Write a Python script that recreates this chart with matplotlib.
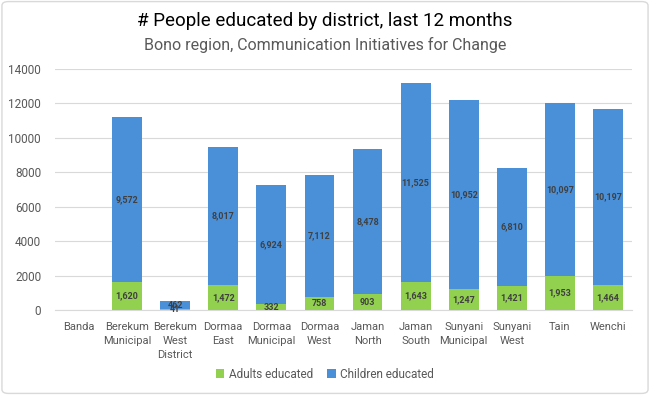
import matplotlib.pyplot as plt
import numpy as np
from matplotlib.patches import FancyBboxPatch

plt.rcParams['font.family'] = ['Roboto', 'DejaVu Sans']

# Data
districts = ["Banda", "Berekum\nMunicipal", "Berekum\nWest\nDistrict", "Dormaa\nEast",
             "Dormaa\nMunicipal", "Dormaa\nWest", "Jaman\nNorth", "Jaman\nSouth",
             "Sunyani\nMunicipal", "Sunyani\nWest", "Tain", "Wenchi"]
adults = [0, 1620, 41, 1472, 332, 758, 903, 1643, 1247, 1421, 1953, 1464]
children = [0, 9572, 462, 8017, 6924, 7112, 8478, 11525, 10952, 6810, 10097, 10197]

green = "#92D050"
blue = "#4A90D9"
text_gray = "#595959"

fig = plt.figure(figsize=(6.5, 3.95), dpi=100)
# chart border
fig.patches.append(FancyBboxPatch((0.003, 0.004), 0.994, 0.992, boxstyle="round,pad=0,rounding_size=0.01",
                                  transform=fig.transFigure, fill=False, edgecolor="#D9D9D9", linewidth=1))

ax = fig.add_axes([0.0846, 0.2152, 0.8877, 0.6101])
x = np.arange(len(districts))
w = 0.62
b1 = ax.bar(x, adults, w, color=green, label="Adults educated", zorder=3)
b2 = ax.bar(x, children, w, bottom=adults, color=blue, label="Children educated", zorder=3)

for i in range(len(x)):
    if adults[i] > 0:
        ax.text(x[i], adults[i] / 2, f"{adults[i]:,}", ha="center", va="center",
                fontsize=6.5, fontweight="bold", color="#404040", zorder=4)
    if children[i] > 0:
        ax.text(x[i], adults[i] + children[i] / 2, f"{children[i]:,}", ha="center", va="center",
                fontsize=6.5, fontweight="bold", color="#404040", zorder=4)

ax.set_xlim(-0.5, len(x) - 0.5)
ax.set_ylim(0, 14000)
ax.set_yticks(range(0, 14001, 2000))
ax.yaxis.grid(True, color="#D9D9D9", linewidth=0.8, zorder=0)
ax.set_xticks(x)
ax.set_xticklabels(districts, fontsize=8, color=text_gray, linespacing=1.45)
ax.tick_params(axis="y", labelsize=8.5, labelcolor=text_gray, length=0, pad=10)
ax.tick_params(axis="x", length=0, pad=9)
for s in ["top", "right", "left"]:
    ax.spines[s].set_visible(False)
ax.spines["bottom"].set_color("#D9D9D9")

fig.text(0.5, 0.947, "# People educated by district, last 12 months", ha="center", va="center",
         fontsize=13.5, color="black")
fig.text(0.5, 0.885, "Bono region, Communication Initiatives for Change", ha="center", va="center",
         fontsize=11.5, color=text_gray)

fig.legend(handles=[b1, b2], loc="center", bbox_to_anchor=(0.5, 0.053), ncol=2, frameon=False,
           fontsize=8.5, handlelength=0.7, handleheight=0.7, handletextpad=0.4, columnspacing=1.2,
           labelcolor=text_gray)

fig.savefig("out.png", dpi=100)
